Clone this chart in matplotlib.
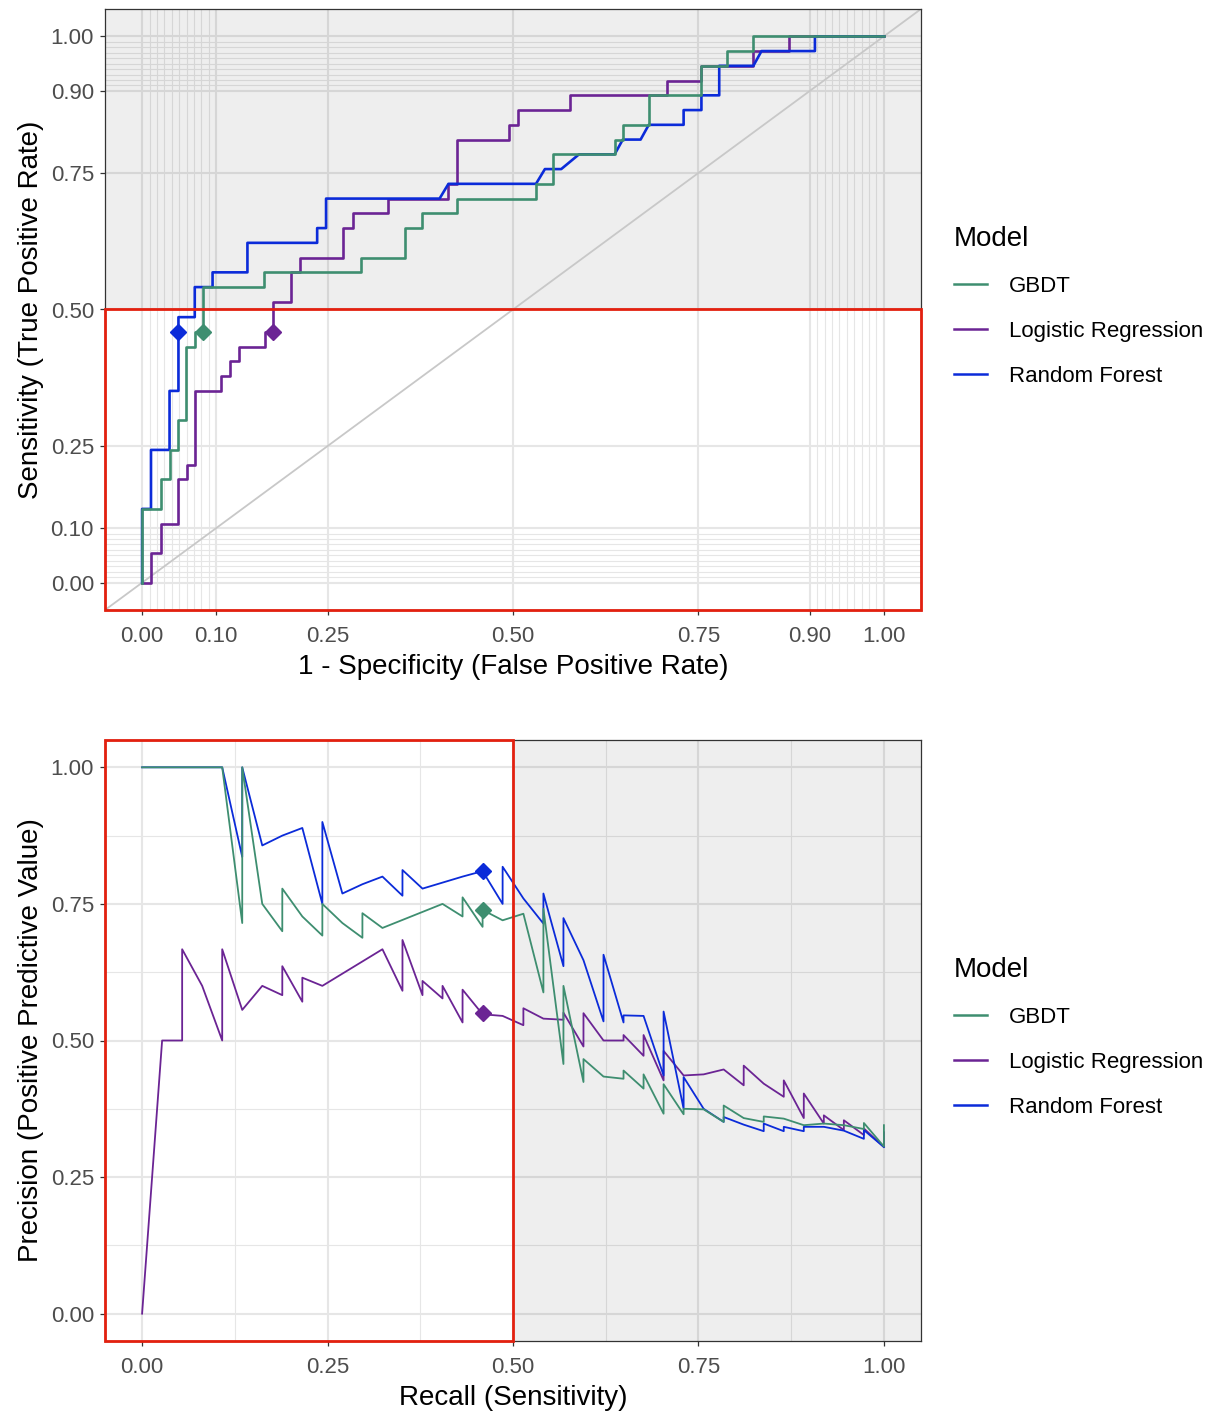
import matplotlib
matplotlib.use("Agg")
import matplotlib.pyplot as plt
from matplotlib.lines import Line2D
from matplotlib.patches import Rectangle

plt.rcParams['font.family'] = ['Liberation Sans', 'DejaVu Sans']

models = ["GBDT", "Logistic Regression", "Random Forest"]
colors = ["#3E8E70", "#6B2494", "#0B2BD9"]

# ROC curves (1 - specificity, sensitivity)
gbdt_fpr = [0, 0, 0.025, 0.025, 0.037, 0.037, 0.049, 0.049, 0.059, 0.059, 0.071, 0.071,
            0.082, 0.082, 0.165, 0.165, 0.295, 0.295, 0.354, 0.354, 0.378, 0.378, 0.425,
            0.425, 0.531, 0.531, 0.554, 0.554, 0.637, 0.637, 0.648, 0.648, 0.683, 0.683,
            0.754, 0.754, 0.789, 0.789, 0.824, 0.824, 1]
gbdt_tpr = [0, 0.135, 0.135, 0.189, 0.189, 0.243, 0.243, 0.297, 0.297, 0.432, 0.432, 0.459,
            0.459, 0.541, 0.541, 0.568, 0.568, 0.595, 0.595, 0.649, 0.649, 0.676, 0.676,
            0.703, 0.703, 0.730, 0.730, 0.784, 0.784, 0.811, 0.811, 0.838, 0.838, 0.892,
            0.892, 0.946, 0.946, 0.973, 0.973, 1, 1]

lr_fpr = [0, 0.012, 0.012, 0.025, 0.025, 0.049, 0.049, 0.060, 0.060, 0.071, 0.071, 0.107,
          0.107, 0.119, 0.119, 0.130, 0.130, 0.166, 0.166, 0.177, 0.177, 0.201, 0.201, 0.213,
          0.213, 0.271, 0.271, 0.284, 0.284, 0.331, 0.331, 0.413, 0.413, 0.425, 0.425, 0.495,
          0.495, 0.507, 0.507, 0.577, 0.577, 0.707, 0.707, 0.754, 0.754, 0.824, 0.824, 0.872,
          0.872, 1]
lr_tpr = [0, 0, 0.054, 0.054, 0.108, 0.108, 0.189, 0.189, 0.216, 0.216, 0.351, 0.351,
          0.378, 0.378, 0.405, 0.405, 0.432, 0.432, 0.459, 0.459, 0.514, 0.514, 0.568, 0.568,
          0.595, 0.595, 0.649, 0.649, 0.676, 0.676, 0.703, 0.703, 0.730, 0.730, 0.811, 0.811,
          0.838, 0.838, 0.865, 0.865, 0.892, 0.892, 0.919, 0.919, 0.946, 0.946, 0.973, 0.973,
          1, 1]

rf_fpr = [0, 0, 0.012, 0.012, 0.037, 0.037, 0.049, 0.049, 0.071, 0.071, 0.095, 0.095,
          0.142, 0.142, 0.236, 0.236, 0.248, 0.248, 0.401, 0.413, 0.531, 0.543, 0.565, 0.589,
          0.637, 0.648, 0.672, 0.683, 0.730, 0.730, 0.754, 0.754, 0.778, 0.778, 0.824, 0.835,
          0.907, 0.907, 1]
rf_tpr = [0, 0.135, 0.135, 0.243, 0.243, 0.351, 0.351, 0.486, 0.486, 0.541, 0.541, 0.568,
          0.568, 0.622, 0.622, 0.649, 0.649, 0.703, 0.703, 0.730, 0.730, 0.757, 0.757, 0.784,
          0.784, 0.811, 0.811, 0.838, 0.838, 0.865, 0.865, 0.892, 0.892, 0.946, 0.946, 0.973,
          0.973, 1, 1]

# precision-recall curves
gbdt_recall = [0, 0.108, 0.135, 0.135, 0.162, 0.189, 0.189, 0.216, 0.243, 0.243, 0.270,
               0.297, 0.297, 0.324, 0.405, 0.432, 0.432, 0.459, 0.459, 0.486, 0.514, 0.541,
               0.541, 0.568, 0.568, 0.595, 0.595, 0.622, 0.649, 0.649, 0.676, 0.676, 0.703,
               0.703, 0.730, 0.730, 0.757, 0.784, 0.784, 0.811, 0.838, 0.838, 0.865, 0.892,
               0.919, 0.946, 0.973, 0.973, 1.0, 1.0]
gbdt_precision = [1.0, 1.0, 0.715, 1.0, 0.75, 0.70, 0.778, 0.727, 0.692, 0.75, 0.715,
                  0.688, 0.733, 0.706, 0.75, 0.727, 0.762, 0.708, 0.739, 0.72, 0.732, 0.588,
                  0.741, 0.457, 0.60, 0.424, 0.466, 0.434, 0.43, 0.445, 0.412, 0.438, 0.366,
                  0.42, 0.365, 0.375, 0.374, 0.351, 0.381, 0.358, 0.351, 0.361, 0.357, 0.345,
                  0.348, 0.345, 0.338, 0.349, 0.306, 0.345]

lr_recall = [0, 0.027, 0.054, 0.054, 0.081, 0.108, 0.108, 0.135, 0.162, 0.189, 0.189, 0.216,
             0.216, 0.243, 0.324, 0.351, 0.351, 0.378, 0.378, 0.405, 0.405, 0.432, 0.432,
             0.459, 0.486, 0.514, 0.514, 0.541, 0.568, 0.568, 0.595, 0.595, 0.622, 0.649,
             0.649, 0.676, 0.676, 0.703, 0.703, 0.730, 0.757, 0.784, 0.811, 0.811, 0.838,
             0.865, 0.865, 0.892, 0.892, 0.919, 0.919, 0.946, 0.946, 0.973, 0.973, 1.0, 1.0]
lr_precision = [0, 0.5, 0.5, 0.667, 0.60, 0.5, 0.667, 0.556, 0.60, 0.583, 0.636, 0.571,
                0.615, 0.60, 0.667, 0.591, 0.684, 0.583, 0.609, 0.577, 0.60, 0.533, 0.593,
                0.548, 0.545, 0.528, 0.559, 0.54, 0.538, 0.551, 0.489, 0.55, 0.50, 0.50,
                0.51, 0.472, 0.51, 0.427, 0.481, 0.436, 0.438, 0.447, 0.418, 0.454, 0.421,
                0.397, 0.427, 0.358, 0.403, 0.348, 0.363, 0.336, 0.354, 0.327, 0.339, 0.305,
                0.332]

rf_recall = [0, 0.108, 0.135, 0.135, 0.162, 0.189, 0.216, 0.243, 0.243, 0.270, 0.297, 0.324,
             0.351, 0.351, 0.378, 0.405, 0.432, 0.459, 0.486, 0.486, 0.514, 0.541, 0.541,
             0.568, 0.568, 0.595, 0.622, 0.622, 0.649, 0.649, 0.676, 0.703, 0.703, 0.730,
             0.730, 0.757, 0.784, 0.784, 0.811, 0.838, 0.838, 0.865, 0.865, 0.892, 0.892,
             0.919, 0.946, 0.973, 0.973, 1.0]
rf_precision = [1.0, 1.0, 0.836, 1.0, 0.857, 0.875, 0.889, 0.75, 0.90, 0.769, 0.786, 0.80,
                0.765, 0.812, 0.778, 0.789, 0.80, 0.81, 0.75, 0.818, 0.76, 0.714, 0.769,
                0.636, 0.724, 0.647, 0.535, 0.657, 0.533, 0.546, 0.545, 0.436, 0.553, 0.375,
                0.433, 0.375, 0.351, 0.36, 0.346, 0.334, 0.348, 0.334, 0.342, 0.334, 0.342,
                0.342, 0.335, 0.32, 0.336, 0.305]

# selected threshold per model
point_fpr = [0.082, 0.177, 0.049]
point_tpr = [0.459, 0.459, 0.459]
point_recall = [0.459, 0.459, 0.459]
point_precision = [0.739, 0.55, 0.81]

roc_data = [(gbdt_fpr, gbdt_tpr), (lr_fpr, lr_tpr), (rf_fpr, rf_tpr)]
pr_data = [(gbdt_recall, gbdt_precision), (lr_recall, lr_precision), (rf_recall, rf_precision)]
z_order = [3.3, 3.1, 3.2]

fig = plt.figure(figsize=(12.16, 14.13), dpi=100)
ax1 = fig.add_axes([105 / 1216, 1 - 610 / 1413, 816 / 1216, 601 / 1413])
ax2 = fig.add_axes([105 / 1216, 1 - 1341 / 1413, 816 / 1216, 601 / 1413])

roc_breaks = [0, 0.1, 0.25, 0.5, 0.75, 0.9, 1.0]
roc_minor = [i / 100 for i in range(1, 10)] + [i / 100 for i in range(91, 100)]
pr_breaks = [0, 0.25, 0.5, 0.75, 1.0]
pr_minor = [0.125, 0.375, 0.625, 0.875]


def style_axes(ax, breaks, minor):
    ax.set_xlim(-0.05, 1.05)
    ax.set_ylim(-0.05, 1.05)
    ax.set_xticks(breaks)
    ax.set_yticks(breaks)
    ax.set_xticks(minor, minor=True)
    ax.set_yticks(minor, minor=True)
    ax.set_xticklabels(["%.2f" % b for b in breaks])
    ax.set_yticklabels(["%.2f" % b for b in breaks])
    ax.set_axisbelow(True)
    ax.grid(which='major', color='#E6E6E6', lw=1.5)
    ax.grid(which='minor', color='#E6E6E6', lw=0.8)
    ax.tick_params(which='major', length=3.5, width=0.9, color='#333333',
                   labelsize=16, labelcolor='#4D4D4D')
    ax.tick_params(axis='x', which='major', pad=8)
    ax.tick_params(axis='y', which='major', pad=4.5)
    ax.tick_params(which='minor', length=0)
    for s in ax.spines.values():
        s.set_color('#333333')
        s.set_linewidth(0.9)


# ---- ROC panel ----
style_axes(ax1, roc_breaks, roc_minor)
ax1.axhspan(0.5, 1.05, color='black', alpha=0.065, lw=0, zorder=1)
ax1.axline((0, 0), (1, 1), color='#C8C8C8', lw=1.3, zorder=2)
for (x, y), c, z in zip(roc_data, colors, z_order):
    ax1.plot(x, y, color=c, lw=1.9, zorder=z)
ax1.add_patch(Rectangle((-0.05, -0.05), 1.1, 0.55, fill=False, ec='#E3200F', lw=2,
                        clip_on=False, zorder=4))
for px, py, c in zip(point_fpr, point_tpr, colors):
    ax1.plot(px, py, marker='D', ms=8.5, color=c, ls='none', zorder=5)
ax1.set_xlabel("1 - Specificity (False Positive Rate)", fontsize=20, labelpad=5)
ax1.set_ylabel("Sensitivity (True Positive Rate)", fontsize=20, labelpad=5)

# ---- PR panel ----
style_axes(ax2, pr_breaks, pr_minor)
ax2.axvspan(0.5, 1.05, color='black', alpha=0.065, lw=0, zorder=1)
for (x, y), c, z in zip(pr_data, colors, z_order):
    ax2.plot(x, y, color=c, lw=1.3, zorder=z)
ax2.add_patch(Rectangle((-0.05, -0.05), 0.55, 1.1, fill=False, ec='#E3200F', lw=2,
                        clip_on=False, zorder=4))
for px, py, c in zip(point_recall, point_precision, colors):
    ax2.plot(px, py, marker='D', ms=8.5, color=c, ls='none', zorder=5)
ax2.set_xlabel("Recall (Sensitivity)", fontsize=20, labelpad=5)
ax2.set_ylabel("Precision (Positive Predictive Value)", fontsize=20, labelpad=5)

handles = [Line2D([], [], color=c, lw=1.8) for c in colors]
for ax in (ax1, ax2):
    leg = ax.legend(handles, models, title="Model", loc='center left',
                    bbox_to_anchor=(1.04, 0.505), frameon=False, fontsize=16,
                    title_fontsize=20, handlelength=1.5, handletextpad=1.0,
                    labelspacing=1.07, borderpad=0, borderaxespad=0, alignment='left')

fig.savefig("out.png", dpi=100)
